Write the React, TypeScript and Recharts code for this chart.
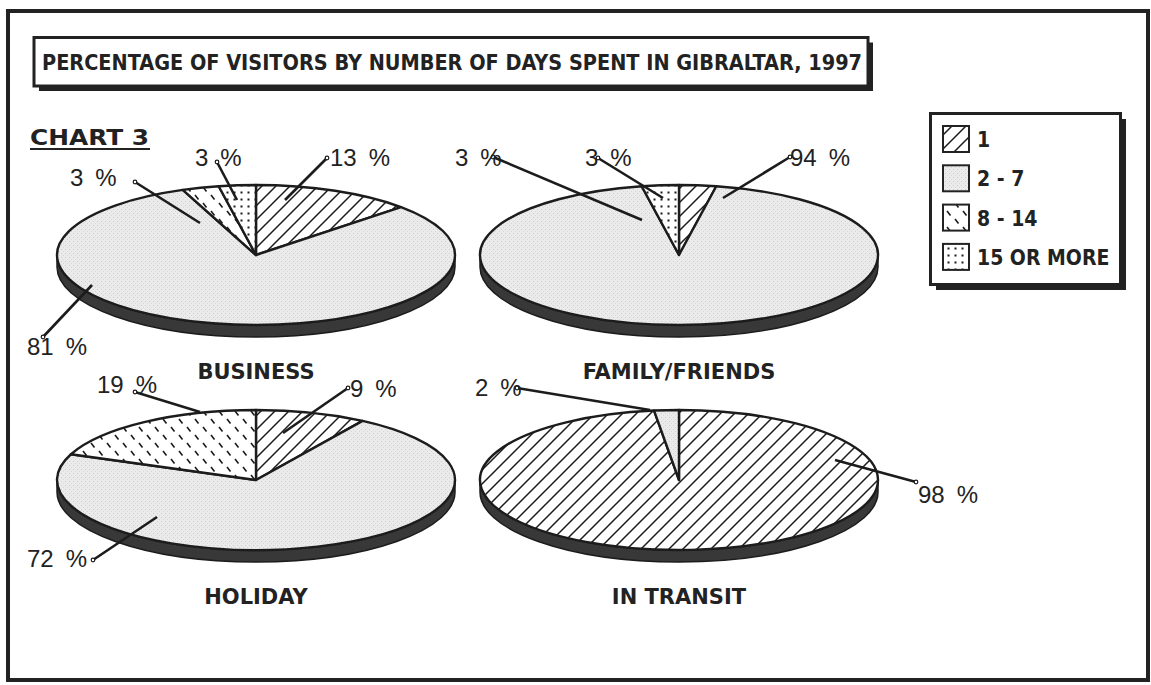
import React from "react";
import { PieChart, Pie, Cell } from "recharts";

// days spent (legend order)
const categories = ["1", "2 - 7", "8 - 14", "15 OR MORE"];

// percent of visitors per category, same order as categories
const business = [13, 81, 3, 3];
const familyFriends = [3, 94, 0, 3];
const holiday = [9, 72, 19, 0];
const inTransit = [98, 2, 0, 0];

const purposes = ["BUSINESS", "FAMILY/FRIENDS", "HOLIDAY", "IN TRANSIT"];
const chartTitle = "PERCENTAGE OF VISITORS BY NUMBER OF DAYS SPENT IN GIBRALTAR, 1997";

const FILLS: Record<string, string> = {
  "1": "url(#pat-hatch)",
  "2 - 7": "url(#pat-stipple)",
  "8 - 14": "url(#pat-dash)",
  "15 OR MORE": "url(#pat-dots)",
};

const RX = 199;
const TILT = 70 / 199;
const DEPTH = 12;
const INK = "#1c1c1c";

// leader line layout, offsets from pie centre: text start (tx, ty baseline), line from (ax, ay) to (bx, by)
type Spot = { tx: number; ty: number; ax: number; ay: number; bx: number; by: number };
const businessSpots: Record<string, Spot> = {
  "1": { tx: 74, ty: -89, ax: 71, ay: -97, bx: 29, by: -55 },
  "2 - 7": { tx: -229, ty: 100, ax: -213, ay: 82, bx: -164, by: 30 },
  "8 - 14": { tx: -186, ty: -69, ax: -121, ay: -73, bx: -56, by: -32 },
  "15 OR MORE": { tx: -61, ty: -89, ax: -39, ay: -93, bx: -19, by: -55 },
};
const familySpots: Record<string, Spot> = {
  "1": { tx: -224, ty: -89, ax: -186, ay: -98, bx: -37, by: -35 },
  "2 - 7": { tx: 111, ty: -89, ax: 111, ay: -98, bx: 44, by: -57 },
  "15 OR MORE": { tx: -94, ty: -89, ax: -81, ay: -97, bx: -16, by: -57 },
};
const holidaySpots: Record<string, Spot> = {
  "1": { tx: 94, ty: -83, ax: 92, ay: -92, bx: 27, by: -47 },
  "2 - 7": { tx: -229, ty: 87, ax: -163, ay: 80, bx: -99, by: 37 },
  "8 - 14": { tx: -159, ty: -87, ax: -121, ay: -88, bx: -56, by: -68 },
};
const transitSpots: Record<string, Spot> = {
  "1": { tx: 239, ty: 23, ax: 237, ay: 2, bx: 156, by: -20 },
  "2 - 7": { tx: -204, ty: -84, ax: -162, ay: -92, bx: -29, by: -70 },
};

const charts = [
  { name: purposes[0], values: business, cx: 256, cy: 255, spots: businessSpots },
  { name: purposes[1], values: familyFriends, cx: 679, cy: 255, spots: familySpots },
  { name: purposes[2], values: holiday, cx: 256, cy: 480, spots: holidaySpots },
  { name: purposes[3], values: inTransit, cx: 679, cy: 480, spots: transitSpots },
];

function pt(cx: number, cy: number, rx: number, ry: number, deg: number) {
  const a = (deg * Math.PI) / 180;
  return [cx + rx * Math.cos(a), cy - ry * Math.sin(a)];
}

// pie slice drawn on a tilted (elliptical) disc, with the rim below it
function FlatSector(props: any) {
  const { cx, cy, outerRadius, startAngle, endAngle, fill } = props;
  const rx = outerRadius;
  const ry = outerRadius * TILT;
  const [x1, y1] = pt(cx, cy, rx, ry, startAngle);
  const [x2, y2] = pt(cx, cy, rx, ry, endAngle);
  const large = Math.abs(startAngle - endAngle) > 180 ? 1 : 0;
  const sweep = startAngle > endAngle ? 1 : 0;
  const face = `M${cx},${cy} L${x1},${y1} A${rx},${ry} 0 ${large} ${sweep} ${x2},${y2} Z`;

  const hi = Math.min(Math.max(startAngle, endAngle), 0);
  const lo = Math.max(Math.min(startAngle, endAngle), -180);
  let rim = null;
  if (hi - lo > 0.01) {
    const [hx, hy] = pt(cx, cy, rx, ry, hi);
    const [lx, ly] = pt(cx, cy, rx, ry, lo);
    rim = (
      <path
        d={`M${hx},${hy} A${rx},${ry} 0 0 1 ${lx},${ly} L${lx},${ly + DEPTH} A${rx},${ry} 0 0 0 ${hx},${hy + DEPTH} Z`}
        fill="#383838"
        stroke={INK}
        strokeWidth={1.5}
      />
    );
  }
  return (
    <g>
      {rim}
      <path d={face} fill={fill} stroke={INK} strokeWidth={2.4} strokeLinejoin="round" />
    </g>
  );
}

const makeLabel = (spots: Record<string, Spot>) => (props: any) => {
  const { cx, cy, value } = props;
  const name = props.name ?? props.payload?.name;
  const s = spots[name];
  if (!s) return null;
  return (
    <g>
      <line x1={cx + s.ax} y1={cy + s.ay} x2={cx + s.bx} y2={cy + s.by} stroke={INK} strokeWidth={2.6} />
      <circle cx={cx + s.ax} cy={cy + s.ay} r={1.8} fill="#fff" stroke={INK} strokeWidth={1.2} />
      <text
        x={cx + s.tx}
        y={cy + s.ty}
        fontFamily="'Liberation Sans', Arial, sans-serif"
        fontSize={24}
        fill="#222"
      >
        {`${value}\u2002%`}
      </text>
    </g>
  );
};

function Patterns() {
  return (
    <defs>
      <pattern id="pat-hatch" patternUnits="userSpaceOnUse" width={14} height={14}>
        <rect width={14} height={14} fill="#fff" />
        <path d="M-2,2 L2,-2 M0,14 L14,0 M12,16 L16,12" stroke={INK} strokeWidth={1.5} />
      </pattern>
      <pattern id="pat-stipple" patternUnits="userSpaceOnUse" width={4} height={4}>
        <rect width={4} height={4} fill="#ebebeb" />
        <rect x={1} y={1} width={1} height={1} fill="#cdcdcd" />
        <rect x={3} y={3} width={1} height={1} fill="#d6d6d6" />
      </pattern>
      <pattern id="pat-dash" patternUnits="userSpaceOnUse" width={16} height={16}>
        <rect width={16} height={16} fill="#fff" />
        <path d="M3,3 L6.5,7.5 M11,11 L14.5,15.5" stroke={INK} strokeWidth={1.6} />
      </pattern>
      <pattern id="pat-dots" patternUnits="userSpaceOnUse" width={7} height={7}>
        <rect width={7} height={7} fill="#fff" />
        <rect x={2.5} y={2.5} width={2} height={2} fill={INK} />
      </pattern>
    </defs>
  );
}

const boldFont = "'DejaVu Sans', sans-serif";
const condFont = "'DejaVu Sans Condensed', 'DejaVu Sans', sans-serif";

export default function App() {
  return (
    <div style={{ position: "fixed", left: 0, top: 0, width: 1151, height: 685, background: "#fff" }}>
      <svg width={1151} height={685} style={{ position: "absolute", left: 0, top: 0 }}>
        <Patterns />
        <rect x={8} y={11} width={1140} height={669} fill="#fff" stroke="#222" strokeWidth={4} />

        {/* title box */}
        <rect x={39} y={42.5} width={834} height={48.5} fill="#222" />
        <rect x={34} y={37.5} width={834} height={48.5} fill="#fff" stroke="#222" strokeWidth={3} />
        <text x={42} y={70} fontFamily={condFont} fontWeight="bold" fontSize={21} fill="#222" textLength={820} lengthAdjust="spacingAndGlyphs">
          {chartTitle}
        </text>

        <text x={30} y={145} fontFamily={boldFont} fontWeight="bold" fontSize={22} fill="#222" textLength={119} lengthAdjust="spacingAndGlyphs">
          CHART 3
        </text>
        <line x1={30} y1={149} x2={150} y2={149} stroke="#222" strokeWidth={2} />

        {/* legend */}
        <rect x={936} y={119} width={190} height={171} fill="#222" />
        <rect x={930.5} y={113.5} width={190} height={171} fill="#fff" stroke="#222" strokeWidth={3} />
        {categories.map((c, i) => (
          <g key={c}>
            <rect x={943} y={126 + i * 39.3} width={26} height={26} fill={FILLS[c]} stroke="#222" strokeWidth={2} />
            <text x={977} y={147 + i * 39.3} fontFamily={condFont} fontWeight="bold" fontSize={21} fill="#222">
              {c}
            </text>
          </g>
        ))}

        {charts.map((ch) => (
          <text key={ch.name} x={ch.cx} y={ch.cy + 124} textAnchor="middle" fontFamily={boldFont} fontWeight="bold" fontSize={21} fill="#222">
            {ch.name}
          </text>
        ))}
      </svg>

      <div style={{ position: "absolute", left: 0, top: 0 }}>
        <PieChart width={1151} height={685} margin={{ top: 0, right: 0, bottom: 0, left: 0 }}>
          {charts.map((ch) => {
            const data = categories
              .map((c, i) => ({ name: c, value: ch.values[i] }))
              .filter((d) => d.value > 0);
            return (
              <Pie
                key={ch.name}
                data={data}
                dataKey="value"
                nameKey="name"
                cx={ch.cx}
                cy={ch.cy}
                outerRadius={RX}
                startAngle={90}
                endAngle={-270}
                stroke={INK}
                shape={FlatSector}
                label={makeLabel(ch.spots)}
                labelLine={false}
                isAnimationActive={false}
              >
                {data.map((d) => (
                  <Cell key={d.name} fill={FILLS[d.name]} />
                ))}
              </Pie>
            );
          })}
        </PieChart>
      </div>
    </div>
  );
}
